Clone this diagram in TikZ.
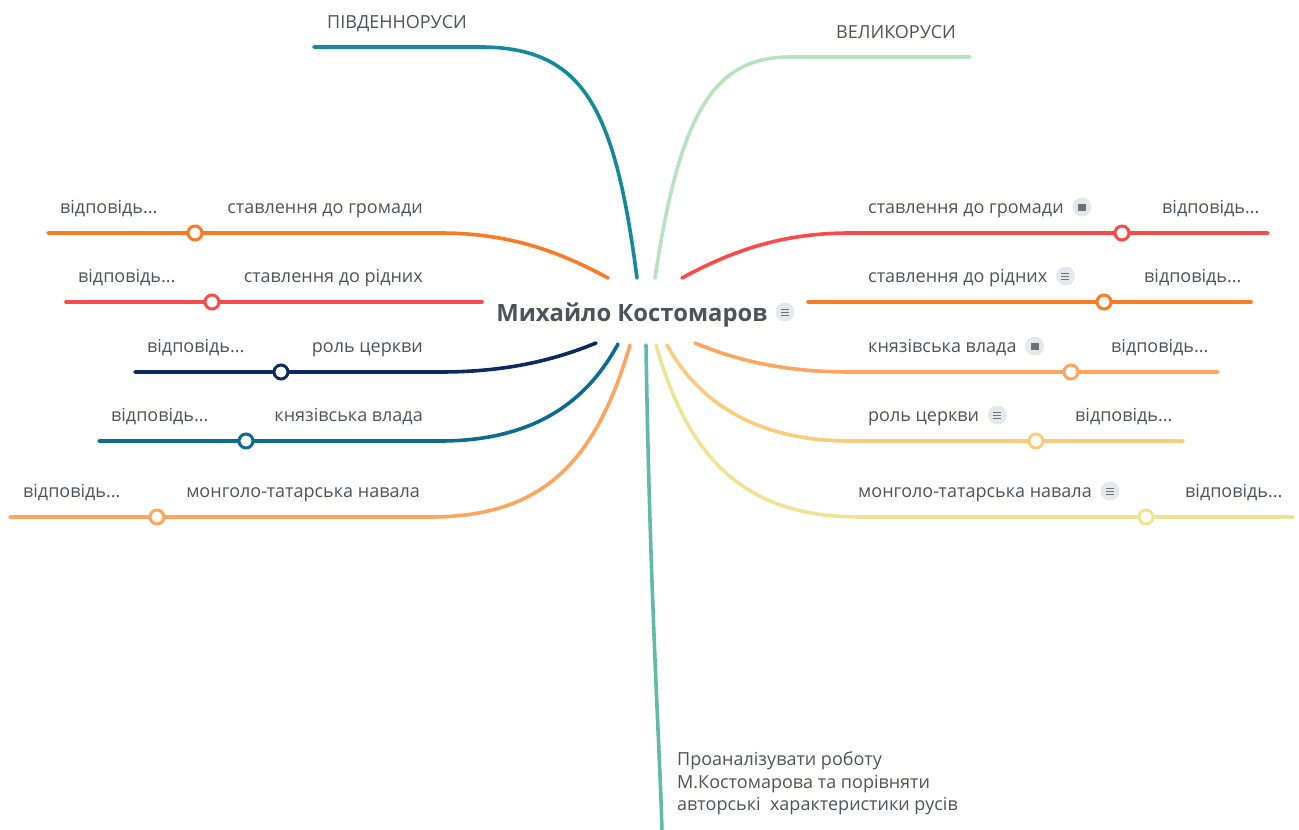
\documentclass[tikz,border=0pt]{standalone}
\usepackage{fontspec}
\usetikzlibrary{calc}
\setmainfont{Open Sans}
\begin{document}
\begin{tikzpicture}[x=1pt,y=-1pt,
  br/.style={line width=3.6pt,line cap=round},
  dot/.style={circle,draw,fill=white,line width=3pt,minimum size=14pt,inner sep=0pt},
  lbl/.style={font=\fontsize{18}{20}\selectfont,text=txt,inner sep=0pt},
  note/.style={circle,fill=notebg,minimum size=19pt,inner sep=0pt}]
\definecolor{txt}{HTML}{4F5258}
\definecolor{notebg}{HTML}{E6E7EA}
\definecolor{noteln}{HTML}{6E7076}
\definecolor{cOr}{HTML}{FB7A26}
\definecolor{cRd}{HTML}{FC4A48}
\definecolor{cNv}{HTML}{0C2A5E}
\definecolor{cTb}{HTML}{0A6C90}
\definecolor{cLo}{HTML}{FFA45C}
\definecolor{cLy}{HTML}{FBCB7C}
\definecolor{cPy}{HTML}{EEE392}
\definecolor{cTe}{HTML}{13899A}
\definecolor{cGr}{HTML}{B7E2BD}
\definecolor{cBt}{HTML}{5FBAA8}
\useasboundingbox (0,0) rectangle (1299,830);

% centre
\node[anchor=base,font=\fontsize{23.8}{26}\selectfont\bfseries,text=txt,inner sep=0pt] (c) at (632,321) {Михайло Костомаров};
\node[note] (cn) at (785,312) {};
\foreach \yy in {-3,0,3} \draw[noteln,line width=1pt] ([xshift=-4pt,yshift=\yy pt]cn.center) -- ([xshift=4pt,yshift=\yy pt]cn.center);

% top
\coordinate (t1s) at (637,278); \coordinate (t1j) at (480,47); \coordinate (t1e) at (314,47);
\draw[br,cTe] (t1s) .. controls (615,110) and (585,47) .. (t1j) -- (t1e);
\node[anchor=base west,font=\fontsize{18}{20}\selectfont,text=txt,inner sep=0pt] (t1l) at (327,28) {ПІВДЕННОРУСИ};
\coordinate (t2s) at (655,278); \coordinate (t2j) at (790,57); \coordinate (t2e) at (970,57);
\draw[br,cGr] (t2s) .. controls (680,110) and (715,57) .. (t2j) -- (t2e);
\node[anchor=base west,font=\fontsize{18}{20}\selectfont,text=txt,inner sep=0pt] (t2l) at (836,38) {ВЕЛИКОРУСИ};

% bottom
\coordinate (bs) at (646,345); \coordinate (be) at (662,832);
\draw[br,cBt] (bs) .. controls (650,600) and (660,750) .. (be);
\node[anchor=north west,align=left,font=\fontsize{18}{23}\selectfont,text=txt,inner sep=0pt] (bt) at (677,751)
 {Проаналізувати роботу\\М.Костомарова та порівняти\\авторські\ \ характеристики русів};

% left branches
\coordinate (l1s) at (608,278); \coordinate (l1j) at (440,233); \coordinate (l1e) at (48,233);
\draw[br,cOr] (l1s) .. controls (560,252) and (510,233) .. (l1j) -- (l1e);
\node[dot,draw=cOr] (l1d) at (195,233) {};
\node[lbl,anchor=base east] (l1a) at (423,213) {ставлення до громади};
\node[lbl,anchor=base west] (l1b) at (60,213) {відповідь...};

\coordinate (l2s) at (482,302); \coordinate (l2e) at (66,302);
\draw[br,cRd] (l2s) -- (l2e);
\node[dot,draw=cRd] (l2d) at (212,302) {};
\node[lbl,anchor=base east] (l2a) at (423,282) {ставлення до рідних};
\node[lbl,anchor=base west] (l2b) at (78,282) {відповідь...};

\coordinate (l3s) at (596,343); \coordinate (l3j) at (440,372); \coordinate (l3e) at (135,372);
\draw[br,cNv] (l3s) .. controls (545,364) and (495,372) .. (l3j) -- (l3e);
\node[dot,draw=cNv] (l3d) at (281,372) {};
\node[lbl,anchor=base east] (l3a) at (423,352) {роль церкви};
\node[lbl,anchor=base west] (l3b) at (147,352) {відповідь...};

\coordinate (l4s) at (618,344); \coordinate (l4j) at (440,441); \coordinate (l4e) at (99,441);
\draw[br,cTb] (l4s) .. controls (585,405) and (530,441) .. (l4j) -- (l4e);
\node[dot,draw=cTb] (l4d) at (246,441) {};
\node[lbl,anchor=base east] (l4a) at (423,421) {князівська влада};
\node[lbl,anchor=base west] (l4b) at (111,421) {відповідь...};

\coordinate (l5s) at (630,345); \coordinate (l5j) at (430,517); \coordinate (l5e) at (10,517);
\draw[br,cLo] (l5s) .. controls (595,465) and (540,517) .. (l5j) -- (l5e);
\node[dot,draw=cLo] (l5d) at (157,517) {};
\node[lbl,anchor=base east] (l5a) at (420,497) {монголо-татарська навала};
\node[lbl,anchor=base west] (l5b) at (23,497) {відповідь...};

% right branches
\coordinate (r1s) at (682,278); \coordinate (r1j) at (850,233); \coordinate (r1e) at (1268,233);
\draw[br,cRd] (r1s) .. controls (730,252) and (780,233) .. (r1j) -- (r1e);
\node[dot,draw=cRd] (r1d) at (1122,233) {};
\node[lbl,anchor=base west] (r1a) at (868,213) {ставлення до громади};
\node[note] (r1n) at ($(r1a.base east)+(18,-6)$) {};
\fill[noteln] ([xshift=-4pt,yshift=-3.5pt]r1n.center) rectangle ([xshift=4pt,yshift=3pt]r1n.center);
\node[lbl,anchor=base west] (r1b) at (1162,213) {відповідь...};

\coordinate (r2s) at (808,302); \coordinate (r2e) at (1251,302);
\draw[br,cOr] (r2s) -- (r2e);
\node[dot,draw=cOr] (r2d) at (1104,302) {};
\node[lbl,anchor=base west] (r2a) at (868,282) {ставлення до рідних};
\node[note] (r2n) at ($(r2a.base east)+(18,-6)$) {};
\foreach \yy in {-3,0,3} \draw[noteln,line width=1pt] ([xshift=-4pt,yshift=\yy pt]r2n.center) -- ([xshift=4pt,yshift=\yy pt]r2n.center);
\node[lbl,anchor=base west] (r2b) at (1144,282) {відповідь...};

\coordinate (r3s) at (695,343); \coordinate (r3j) at (850,372); \coordinate (r3e) at (1218,372);
\draw[br,cLo] (r3s) .. controls (745,364) and (795,372) .. (r3j) -- (r3e);
\node[dot,draw=cLo] (r3d) at (1071,372) {};
\node[lbl,anchor=base west] (r3a) at (868,352) {князівська влада};
\node[note] (r3n) at ($(r3a.base east)+(18,-6)$) {};
\fill[noteln] ([xshift=-4pt,yshift=-3.5pt]r3n.center) rectangle ([xshift=4pt,yshift=3pt]r3n.center);
\node[lbl,anchor=base west] (r3b) at (1111,352) {відповідь...};

\coordinate (r4s) at (667,345); \coordinate (r4j) at (850,441); \coordinate (r4e) at (1183,441);
\draw[br,cLy] (r4s) .. controls (700,405) and (760,441) .. (r4j) -- (r4e);
\node[dot,draw=cLy] (r4d) at (1036,441) {};
\node[lbl,anchor=base west] (r4a) at (868,421) {роль церкви};
\node[note] (r4n) at ($(r4a.base east)+(18,-6)$) {};
\foreach \yy in {-3,0,3} \draw[noteln,line width=1pt] ([xshift=-4pt,yshift=\yy pt]r4n.center) -- ([xshift=4pt,yshift=\yy pt]r4n.center);
\node[lbl,anchor=base west] (r4b) at (1075,421) {відповідь...};

\coordinate (r5s) at (656,345); \coordinate (r5j) at (860,517); \coordinate (r5e) at (1293,517);
\draw[br,cPy] (r5s) .. controls (690,465) and (750,517) .. (r5j) -- (r5e);
\node[dot,draw=cPy] (r5d) at (1146,517) {};
\node[lbl,anchor=base west] (r5a) at (858,497) {монголо-татарська навала};
\node[note] (r5n) at ($(r5a.base east)+(18,-6)$) {};
\foreach \yy in {-3,0,3} \draw[noteln,line width=1pt] ([xshift=-4pt,yshift=\yy pt]r5n.center) -- ([xshift=4pt,yshift=\yy pt]r5n.center);
\node[lbl,anchor=base west] (r5b) at (1185,497) {відповідь...};
\end{tikzpicture}
\end{document}
